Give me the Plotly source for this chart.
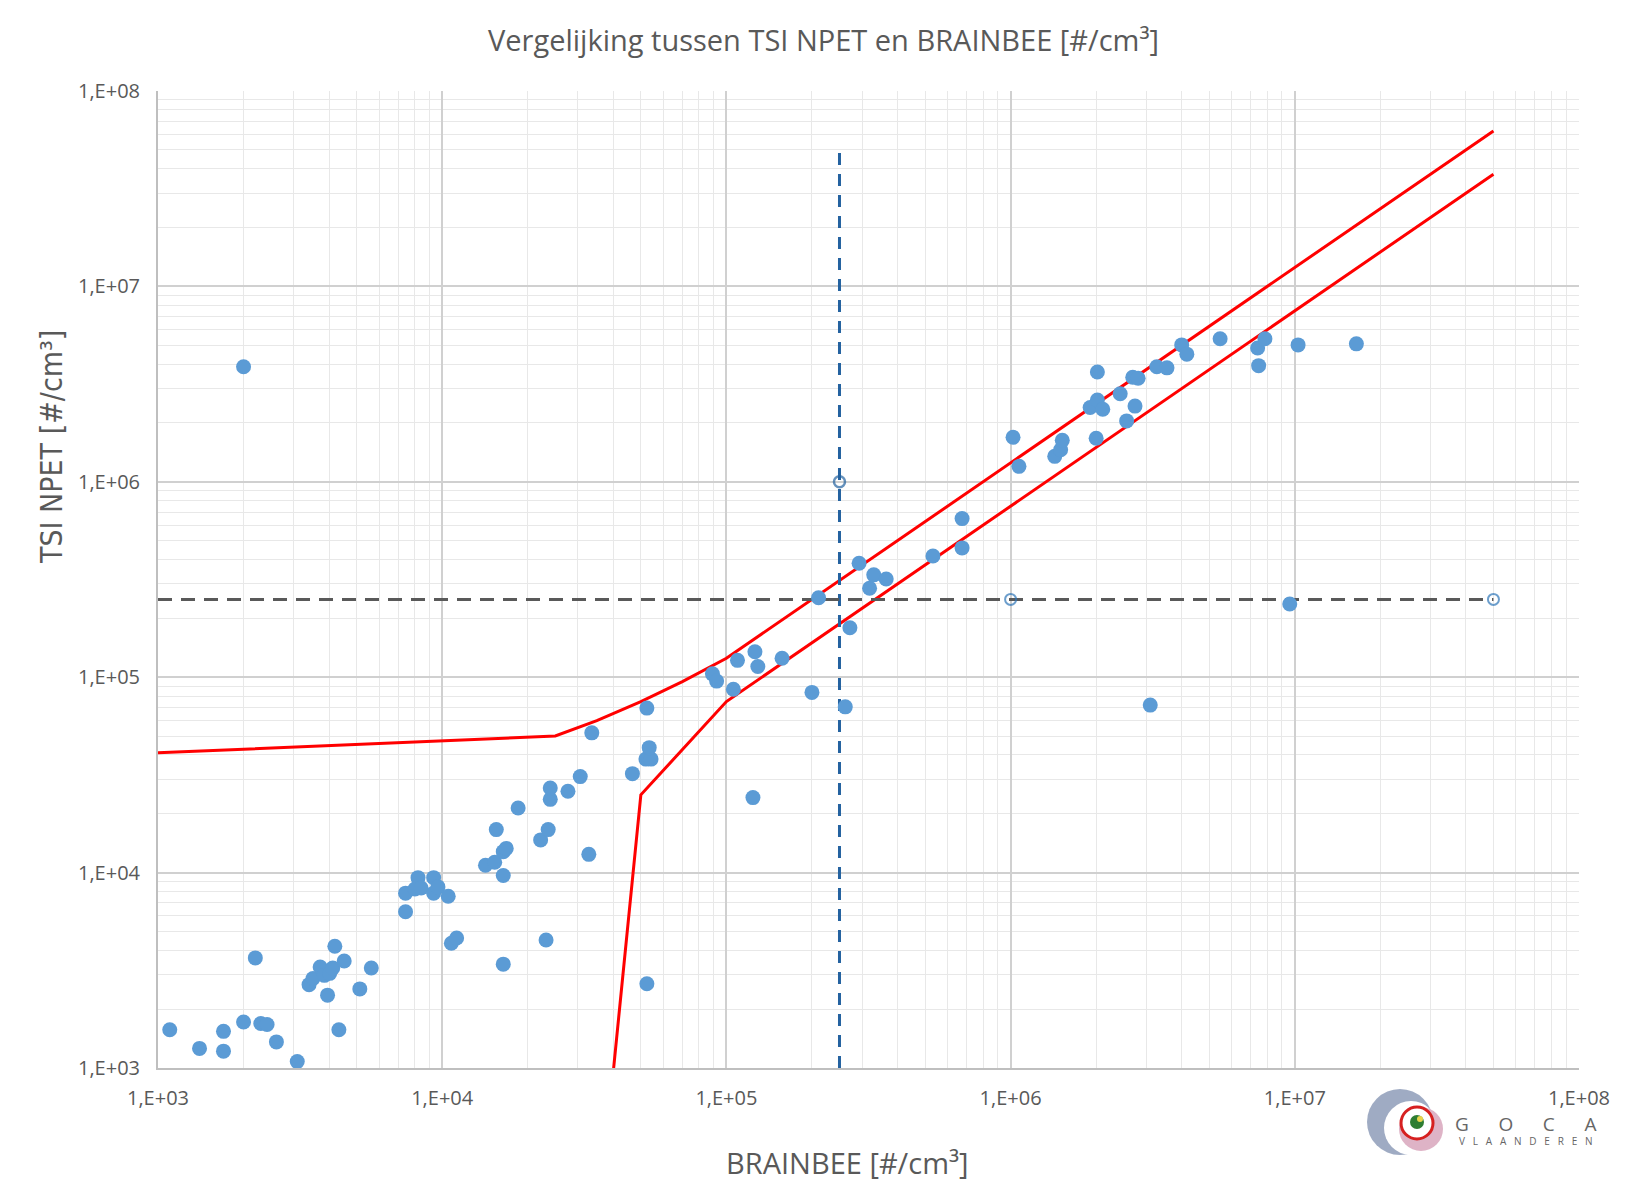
import plotly.graph_objects as go

# ---- data ----
brainbee = [1100, 1400, 1700, 1700, 2000, 2200, 2300, 2420, 2610, 3090,
            3400, 3510, 3720, 3850, 3950, 4020, 4120, 4190, 4330, 4520,
            5130, 5630, 7430, 7430, 8020, 8220, 8430, 9330, 9330, 9660,
            10500, 10770, 11240, 14200, 15300, 15500, 16400, 16800, 16400, 18500,
            22200, 23600, 24000, 24000, 27700, 30600, 32800, 33600, 16400, 23200,
            46700, 52100, 54300, 53500, 52500, 52500, 89300, 92400, 105800, 109400,
            126000, 129000, 157000, 124000, 200000, 211000, 262000, 272000, 293000, 319000,
            330000, 365000, 533000, 675000, 675000, 1.02e6, 1.07e6, 1.43e6, 1.50e6, 1.52e6,
            1.905e6, 2.00e6, 2.02e6, 2.02e6, 2.11e6, 2.43e6, 2.56e6, 2.74e6, 2.69e6, 2.81e6,
            3.27e6, 3.55e6, 4.0e6, 4.17e6, 5.46e6, 7.40e6, 7.46e6, 7.85e6, 1.027e7, 1.647e7,
            2000, 3.1e6, 9.6e6]
tsi_npet = [1570, 1260, 1540, 1220, 1720, 3660, 1690, 1670, 1360, 1080,
            2670, 2870, 3290, 2980, 2360, 3050, 3250, 4200, 1570, 3530,
            2540, 3250, 7850, 6300, 8240, 9420, 8340, 9420, 7850, 8450,
            7570, 4350, 4630, 10900, 11300, 16600, 12800, 13300, 9660, 21400,
            14700, 16600, 23700, 27100, 26100, 31000, 12400, 51900, 3400, 4520,
            32100, 38100, 38100, 43600, 69500, 2700, 104000, 95500, 86700, 122000,
            135000, 113500, 125000, 24200, 83600, 255000, 70500, 179000, 383000, 285000,
            334000, 318000, 417000, 459000, 648000, 1.69e6, 1.2e6, 1.35e6, 1.46e6, 1.63e6,
            2.40e6, 1.67e6, 3.65e6, 2.62e6, 2.35e6, 2.82e6, 2.05e6, 2.44e6, 3.43e6, 3.39e6,
            3.88e6, 3.83e6, 5.02e6, 4.5e6, 5.40e6, 4.84e6, 3.93e6, 5.40e6, 5.02e6, 5.08e6,
            3.88e6, 7.2e4, 2.37e5]

upper_x = [1e3, 2.5e4, 3.5e4, 5e4, 7e4, 1e5, 5e7]
upper_y = [4.1e4, 5e4, 6e4, 7.5e4, 9.5e4, 1.25e5, 6.25e7]
lower_x = [2.5e4, 5e4, 1e5, 5e7]
lower_y = [1, 2.5e4, 7.5e4, 3.75e7]

vline_x = [2.5e5, 2.5e5, 2.5e5]
vline_y = [1e3, 1e6, 5e7]
hline_x = [1e3, 1e6, 5e7]
hline_y = [2.5e5, 2.5e5, 2.5e5]

tick_vals = [1e3, 1e4, 1e5, 1e6, 1e7, 1e8]
tick_text = ["1,E+03", "1,E+04", "1,E+05", "1,E+06", "1,E+07", "1,E+08"]
minor_vals = [m * 10 ** e for e in range(3, 8) for m in range(2, 10)]

TITLE = "Vergelijking tussen TSI NPET en BRAINBEE [#/cm³]"
XTITLE = "BRAINBEE [#/cm³]"
YTITLE = "TSI NPET [#/cm³]"

GRAY = "#595959"
FONT = "Open Sans, Noto Sans, Liberation Sans, sans-serif"

W, H = 1631, 1187
ML, MR, MT, MB = 150, 60, 83, 127
PW, PH = W - ML - MR, H - MT - MB


def px(x):
    return (x - ML) / PW


def py(y):
    return (H - MB - y) / PH


fig = go.Figure()

fig.add_trace(go.Scatter(x=upper_x, y=upper_y, mode="lines",
                         line=dict(color="#FF0000", width=3), hoverinfo="skip"))
fig.add_trace(go.Scatter(x=lower_x, y=lower_y, mode="lines",
                         line=dict(color="#FF0000", width=3), hoverinfo="skip"))

fig.add_trace(go.Scatter(x=vline_x, y=vline_y, mode="lines+markers",
                         line=dict(color="#2462A0", width=3, dash="12px,9px"),
                         marker=dict(symbol="circle-open", size=[0, 11, 0],
                                     color="#2462A0", line=dict(width=2.5))))
fig.add_trace(go.Scatter(x=hline_x, y=hline_y, mode="lines+markers",
                         line=dict(color=GRAY, width=3, dash="14px,9px"),
                         marker=dict(symbol="circle-open", size=[0, 11, 11],
                                     color="#2E75B6", line=dict(width=2))))

fig.add_trace(go.Scatter(x=brainbee, y=tsi_npet, mode="markers",
                         marker=dict(color="#5B9BD5", size=15, line=dict(width=0))))

axis_common = dict(
    type="log", tickvals=tick_vals, ticktext=tick_text,
    showgrid=True, gridcolor="#D0D0D0", gridwidth=1.5,
    minor=dict(tickvals=minor_vals, showgrid=True, gridcolor="#E8E8E8", gridwidth=1.2, ticks=""),
    showline=True, linecolor="#BFBFBF", linewidth=2,
    ticks="", tickfont=dict(family=FONT, size=20, color=GRAY),
    zeroline=False, range=[3, 8],
)

fig.update_xaxes(**axis_common, ticklabelstandoff=11)
fig.update_yaxes(**axis_common, ticklabelstandoff=12)

SP = "&nbsp;" * 3
fig.update_layout(
    width=W, height=H,
    margin=dict(l=ML, r=MR, t=MT, b=MB),
    paper_bgcolor="white", plot_bgcolor="white",
    showlegend=False,
    title=dict(text=TITLE, x=0.5, xref="container", xanchor="center",
               y=1 - 33 / H, yref="container", yanchor="middle",
               font=dict(family=FONT, size=29, color=GRAY)),
    annotations=[
        dict(text=XTITLE, xref="paper", yref="paper", x=0.485, y=-0.097,
             xanchor="center", yanchor="middle", showarrow=False,
             font=dict(family=FONT, size=29, color=GRAY)),
        dict(text=YTITLE, xref="paper", yref="paper", x=-0.075, y=0.636,
             xanchor="center", yanchor="middle", showarrow=False, textangle=-90,
             font=dict(family="Liberation Sans Narrow, DejaVu Sans Condensed, Roboto, sans-serif",
                       size=30, color=GRAY)),
        dict(text="G&nbsp;&nbsp;&nbsp;&nbsp;&nbsp;&nbsp;O&nbsp;&nbsp;&nbsp;&nbsp;&nbsp;&nbsp;C&nbsp;&nbsp;&nbsp;&nbsp;&nbsp;&nbsp;A",
             xref="paper", yref="paper", x=px(1517), y=py(1116),
             xanchor="center", yanchor="middle", showarrow=False,
             font=dict(family=FONT, size=19, color="#666666")),
        dict(text=SP.join("VLAANDEREN"),
             xref="paper", yref="paper", x=px(1518), y=py(1133),
             xanchor="center", yanchor="middle", showarrow=False,
             font=dict(family=FONT, size=10, color="#666666")),
    ],
)


def circ(cx, cy, r, **kw):
    return dict(type="circle", xref="paper", yref="paper",
                xsizemode="pixel", ysizemode="pixel",
                xanchor=px(cx), yanchor=py(cy),
                x0=-r, x1=r, y0=-r, y1=r, layer="above", **kw)


shapes = [
    circ(1392, 1114, 33, fillcolor="#8E9CB8", line=dict(width=0), opacity=0.85),
    circ(1403, 1120, 27, fillcolor="white", line=dict(width=0)),
    circ(1413, 1121, 22, fillcolor="#D6A0B8", line=dict(width=0), opacity=0.8),
    circ(1409, 1115, 16, fillcolor="white", line=dict(color="#D62020", width=3)),
    circ(1409, 1114, 7, fillcolor="#2E7D32", line=dict(width=0)),
    circ(1412, 1111, 3, fillcolor="#E8D44D", line=dict(width=0)),
]
fig.update_layout(shapes=shapes)

fig.write_html("out.html")
